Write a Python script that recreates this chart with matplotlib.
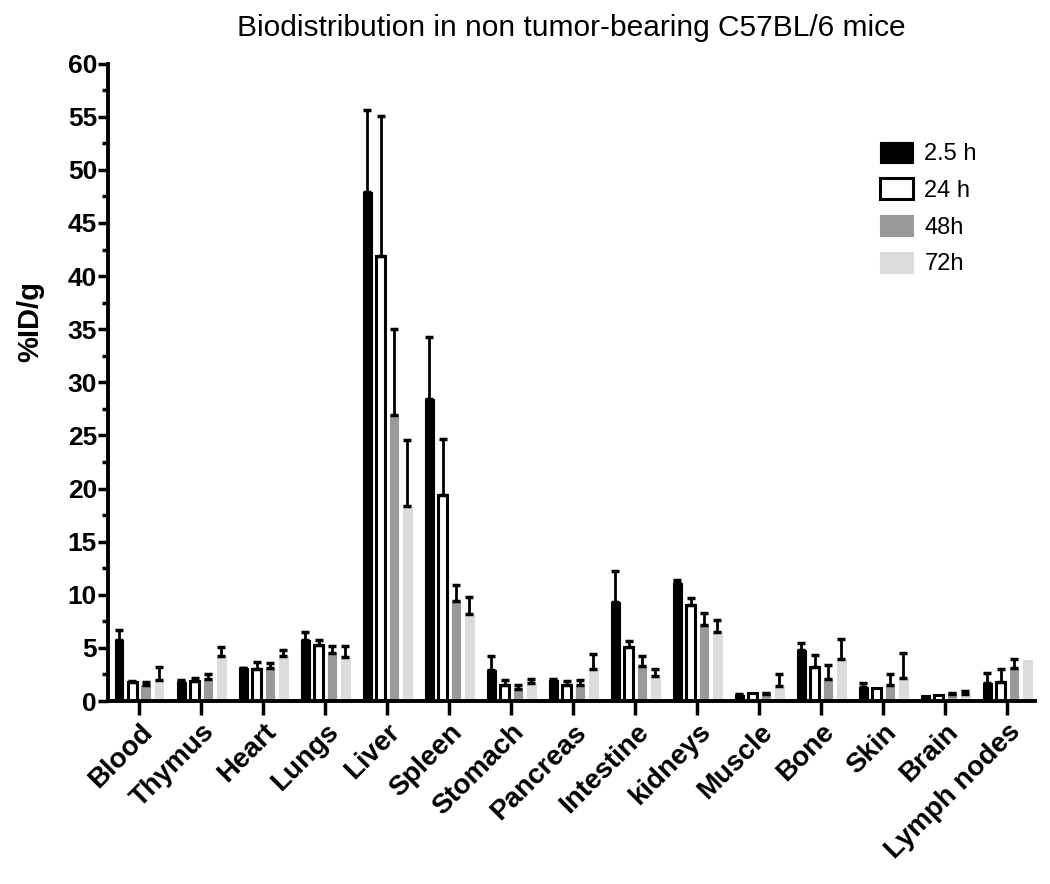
import numpy as np
import matplotlib.pyplot as plt
from matplotlib.ticker import MultipleLocator

plt.rcParams["font.family"] = ["Liberation Sans", "DejaVu Sans"]

organs = ["Blood", "Thymus", "Heart", "Lungs", "Liver", "Spleen", "Stomach",
          "Pancreas", "Intestine", "kidneys", "Muscle", "Bone", "Skin",
          "Brain", "Lymph nodes"]
series = ["2.5 h", "24 h", "48h", "72h"]

# mean %ID/g per time point
mean_2h = [5.7, 1.8, 3.1, 5.7, 47.9, 28.4, 2.9, 2.0, 9.3, 11.1, 0.6, 4.8, 1.3, 0.6, 1.7]
mean_24h = [1.8, 1.9, 3.05, 5.25, 41.9, 19.4, 1.5, 1.5, 5.1, 9.0, 0.8, 3.2, 1.2, 0.6, 1.8]
mean_48h = [1.55, 2.05, 3.15, 4.5, 26.9, 9.4, 1.1, 1.5, 3.3, 7.2, 0.7, 2.1, 1.5, 0.7, 3.1]
mean_72h = [2.0, 4.25, 4.25, 4.15, 18.4, 8.2, 1.7, 3.05, 2.35, 6.45, 1.4, 4.0, 2.2, 0.7, 3.9]

# upper error (SD)
err_2h = [1.0, 0.2, 0.05, 0.8, 7.7, 5.9, 1.3, 0.1, 2.9, 0.3, 0.1, 0.7, 0.4, 0.0, 0.9]
err_24h = [0.1, 0.25, 0.65, 0.45, 13.2, 5.3, 0.5, 0.4, 0.55, 0.7, 0.0, 1.1, 0.0, 0.0, 1.2]
err_48h = [0.25, 0.45, 0.45, 0.7, 8.1, 1.5, 0.4, 0.45, 0.9, 1.05, 0.05, 1.3, 1.0, 0.05, 0.9]
err_72h = [1.2, 0.85, 0.55, 1.05, 6.2, 1.6, 0.4, 1.35, 0.7, 1.15, 1.1, 1.85, 2.3, 0.25, 0.0]

means = [mean_2h, mean_24h, mean_48h, mean_72h]
errs = [err_2h, err_24h, err_48h, err_72h]
faces = ["black", "white", "#999999", "#dcdcdc"]
edges = ["black", "black", "#999999", "#dcdcdc"]

fig = plt.figure(figsize=(10.5, 8.84), dpi=100)
ax = fig.add_axes([0.103, 0.207, 0.883, 0.721])

x = np.arange(len(organs))
passo = 0.215
largura = 0.14
for i in range(4):
    pos = x + (i - 1.5) * passo
    m = np.array(means[i])
    e = np.array(errs[i])
    ax.bar(pos, m, largura, color=faces[i], edgecolor=edges[i],
           linewidth=2.2 if i == 1 else 0.8, label=series[i], zorder=2)
    tem = e > 0
    ax.errorbar(pos[tem], m[tem], yerr=[np.zeros(tem.sum()), e[tem]],
                fmt="none", ecolor="black", elinewidth=2, capsize=3,
                capthick=2.5, zorder=3)

ax.set_xlim(-0.5, 14.45)
ax.set_ylim(0, 60)
ax.yaxis.set_major_locator(MultipleLocator(5))
ax.yaxis.set_minor_locator(MultipleLocator(2.5))
ax.set_xticks(x)
ax.set_xticklabels(organs, rotation=45, ha="right", rotation_mode="anchor",
                   fontsize=20, fontweight="bold")
for lbl in ax.get_yticklabels():
    lbl.set_fontweight("bold")
ax.tick_params(axis="y", which="major", labelsize=19, width=2.5, length=7, pad=1)
ax.tick_params(axis="y", which="minor", width=2.5, length=4)
ax.tick_params(axis="x", width=2.5, length=10, pad=3)

ax.spines[["top", "right"]].set_visible(False)
ax.spines[["left", "bottom"]].set_linewidth(2.8)

ax.set_ylabel("%ID/g", fontsize=21, fontweight="bold")
ax.yaxis.set_label_coords(-0.069, 0.595)
ax.set_title("Biodistribution in non tumor-bearing C57BL/6 mice",
             fontsize=21.5, pad=20)

leg = ax.legend(loc="upper right", bbox_to_anchor=(0.96, 0.911), frameon=False,
                fontsize=17, handlelength=1.4, handleheight=1.0,
                labelspacing=0.55, handletextpad=0.5)

fig.savefig("out.png", dpi=100, facecolor="white")
